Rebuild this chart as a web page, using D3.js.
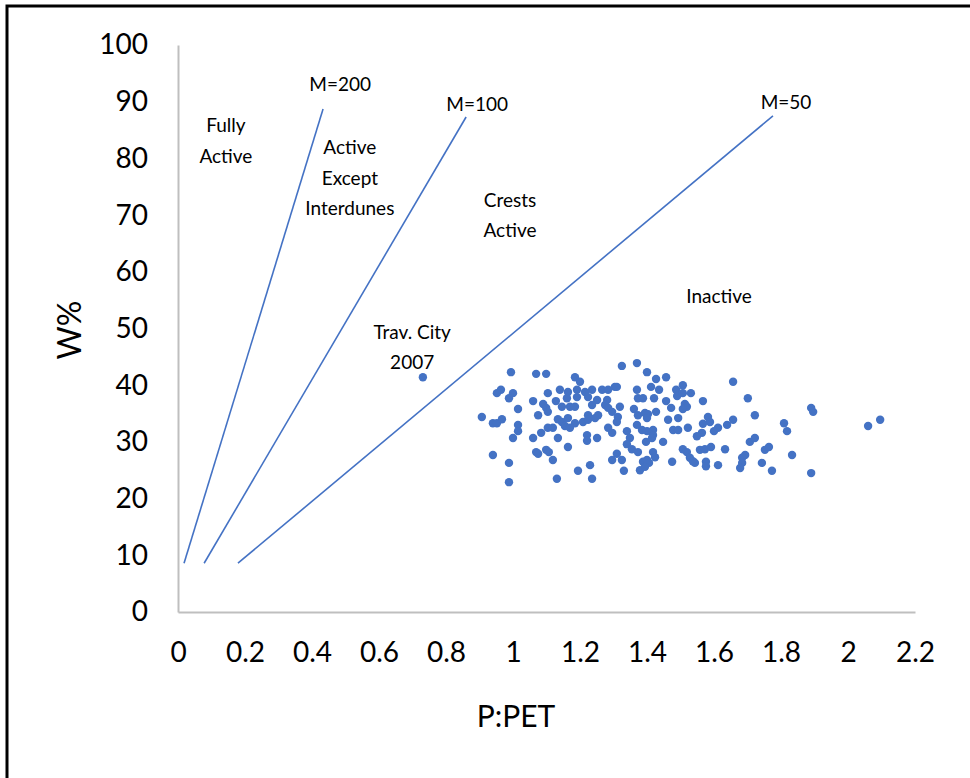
<!DOCTYPE html>
<html>
<head>
<meta charset="utf-8">
<script src="https://cdn.jsdelivr.net/npm/d3@7"></script>
<style>
	body { margin: 0; background: #fff; }
	text { font-family: Lato, "Open Sans", sans-serif; fill: #000; }
</style>
</head>
<body>
<script>
// P:PET vs W%
let dunesX = [
	0.994, 1.069, 1.099, 0.952, 0.964, 1.000, 0.988, 1.060, 1.104, 1.090, 1.128, 1.099, 1.104, 1.075, 1.015, 0.907,
	0.940, 0.952, 0.967, 1.015, 1.015, 1.104, 1.119, 1.084, 1.060, 1.000, 1.134, 1.134, 0.940, 1.069, 1.075, 1.099,
	1.107, 1.119, 0.988, 0.988, 1.131,
	1.325, 1.370, 1.185, 1.200, 1.140, 1.164, 1.191, 1.161, 1.191, 1.215, 1.236, 1.266, 1.284, 1.304, 1.310, 1.370,
	1.224, 1.251, 1.281, 1.373, 1.388, 1.146, 1.170, 1.185, 1.236, 1.275, 1.284, 1.319, 1.361, 1.296, 1.254, 1.224,
	1.164, 1.313, 1.146, 1.185, 1.209, 1.224, 1.245, 1.310, 1.373, 1.155, 1.170, 1.284, 1.370, 1.385, 1.340, 1.296,
	1.221, 1.221, 1.251, 1.349, 1.340, 1.355, 1.164, 1.373, 1.310, 1.296, 1.325, 1.230, 1.388, 1.194, 1.331, 1.236,
	1.379,
	1.400, 1.427, 1.457, 1.412, 1.436, 1.487, 1.507, 1.490, 1.507, 1.531, 1.421, 1.457, 1.567, 1.513, 1.519, 1.472,
	1.507, 1.394, 1.403, 1.427, 1.400, 1.463, 1.493, 1.582, 1.588, 1.567, 1.522, 1.478, 1.493, 1.418, 1.400, 1.612,
	1.600, 1.639, 1.564, 1.549, 1.418, 1.415, 1.397, 1.448, 1.507, 1.519, 1.558, 1.573, 1.591, 1.633, 1.418, 1.424,
	1.528, 1.537, 1.543, 1.400, 1.406, 1.394, 1.475, 1.576, 1.576, 1.612,
	1.657, 1.701, 1.722, 1.657, 1.809, 1.818, 1.890, 1.896, 1.707, 1.722, 1.752, 1.764, 1.833, 1.693, 1.684, 1.684,
	1.678, 1.743, 1.773, 1.890,
	2.060, 2.096
]
let dunesW = [
	42.3, 42.0, 42.0, 38.6, 39.2, 38.6, 37.7, 37.2, 38.6, 36.7, 37.2, 36.0, 35.3, 34.7, 35.8, 34.4,
	33.3, 33.3, 34.0, 33.0, 31.9, 32.5, 32.5, 31.6, 30.7, 30.7, 30.7, 34.0, 27.7, 28.2, 27.9, 28.6,
	28.2, 26.8, 26.3, 22.9, 23.5,
	43.4, 43.9, 41.4, 40.6, 39.2, 38.8, 39.2, 37.7, 37.9, 38.8, 39.2, 39.2, 39.2, 39.7, 39.7, 39.2,
	37.9, 37.4, 37.4, 37.7, 37.7, 36.2, 36.2, 36.2, 36.5, 36.5, 36.0, 36.2, 35.8, 35.3, 34.7, 34.7,
	34.2, 34.4, 33.5, 33.3, 33.5, 33.9, 34.2, 33.5, 34.7, 32.8, 32.5, 32.5, 33.0, 32.1, 31.9, 31.6,
	31.2, 30.2, 30.7, 30.7, 29.6, 28.7, 29.1, 28.2, 27.9, 26.8, 26.8, 25.9, 26.5, 24.9, 24.9, 23.5,
	25.0,
	42.3, 41.1, 41.4, 39.7, 39.2, 39.2, 40.0, 38.1, 38.6, 38.6, 37.7, 37.2, 37.2, 36.7, 36.2, 36.0,
	35.8, 35.1, 34.9, 35.3, 34.2, 33.9, 34.2, 34.4, 33.5, 33.2, 32.5, 32.1, 32.1, 32.1, 31.9, 32.5,
	31.9, 33.0, 31.6, 31.0, 31.2, 30.7, 30.0, 30.0, 28.7, 28.2, 28.6, 28.7, 29.1, 28.7, 28.2, 27.3,
	27.2, 26.6, 26.3, 26.8, 26.3, 25.6, 26.5, 26.5, 25.7, 25.9,
	40.6, 37.7, 34.7, 33.9, 33.3, 31.9, 36.0, 35.3, 30.0, 30.7, 28.6, 29.1, 27.7, 27.7, 27.2, 26.3,
	25.4, 26.3, 24.9, 24.5,
	32.8, 33.9
]
let travCity = [0.731, 41.4]

// mobility lines, two end points each
let mobilityNames = ['M=200', 'M=100', 'M=50']
let mobilityX = [[0.018, 0.433], [0.078, 0.860], [0.179, 1.776]]
let mobilityW = [[8.6, 88.7], [8.6, 87.3], [8.6, 87.5]]

let xTicks = [0, 0.2, 0.4, 0.6, 0.8, 1, 1.2, 1.4, 1.6, 1.8, 2, 2.2]
let yTicks = [0, 10, 20, 30, 40, 50, 60, 70, 80, 90, 100]

let noteText = [['M=200'], ['M=100'], ['M=50'], ['Fully', 'Active'], ['Active', 'Except', 'Interdunes'],
	['Crests', 'Active'], ['Inactive'], ['Trav. City', '2007']]
let noteX = [0.484, 0.893, 1.815, 0.143, 0.513, 0.991, 1.615, 0.699]
let noteW = [93.1, 89.6, 89.8, 83.1, 76.5, 70.0, 55.7, 46.7]

let W = 970, H = 778
let BLUE = '#4472c4'
let GRID = '#bfbfbf'

let svg = d3.select('body').append('svg').attr('width', W).attr('height', H)

let x = d3.scaleLinear().domain([0, 2.2]).range([178, 915])
let y = d3.scaleLinear().domain([0, 100]).range([612, 45])

// frame around the figure
svg.append('path')
	.attr('d', `M7,${H} V6 H${W}`)
	.attr('fill', 'none').attr('stroke', '#000').attr('stroke-width', 3)

// axes, no ticks
let xAxis = svg.append('g').attr('transform', `translate(0,${y(0)})`)
	.call(d3.axisBottom(x).tickValues(xTicks).tickSize(0).tickPadding(30).tickFormat(d3.format('')))
let yAxis = svg.append('g').attr('transform', `translate(${x(0)},0)`)
	.call(d3.axisLeft(y).tickValues(yTicks).tickSize(0).tickPadding(30))

for (let ax of [xAxis, yAxis]) {
	ax.select('.domain').attr('stroke', GRID).attr('stroke-width', 2)
	ax.selectAll('text').style('font-family', 'Lato, "Open Sans", sans-serif').attr('font-size', 28).attr('fill', '#000')
}

svg.append('text').attr('x', 516).attr('y', 716).attr('dy', '0.35em')
	.attr('text-anchor', 'middle').attr('font-size', 30).text('P:PET')
svg.append('text').attr('transform', 'translate(70,330) rotate(-90)').attr('dy', '0.35em')
	.attr('text-anchor', 'middle').attr('font-size', 32).text('W%')

// mobility index lines
let line = d3.line().x(d => x(d[0])).y(d => y(d[1]))
mobilityNames.forEach((m, i) => {
	svg.append('path')
		.attr('d', line(d3.zip(mobilityX[i], mobilityW[i])))
		.attr('fill', 'none').attr('stroke', BLUE).attr('stroke-width', 1.6)
})

// points
svg.append('g').selectAll('circle')
	.data(d3.zip(dunesX, dunesW).concat([travCity]))
	.join('circle')
	.attr('cx', d => x(d[0])).attr('cy', d => y(d[1]))
	.attr('r', 4.2).attr('fill', BLUE)

// region labels
noteText.forEach((lines, i) => {
	let t = svg.append('text')
		.attr('x', x(noteX[i])).attr('y', y(noteW[i]))
		.attr('text-anchor', 'middle').attr('font-size', 19)
	lines.forEach((s, j) => {
		t.append('tspan').attr('x', x(noteX[i]))
			.attr('dy', j == 0 ? (0.35 - (lines.length - 1) * 0.8) + 'em' : '1.6em')
			.text(s)
	})
})
</script>
</body>
</html>
